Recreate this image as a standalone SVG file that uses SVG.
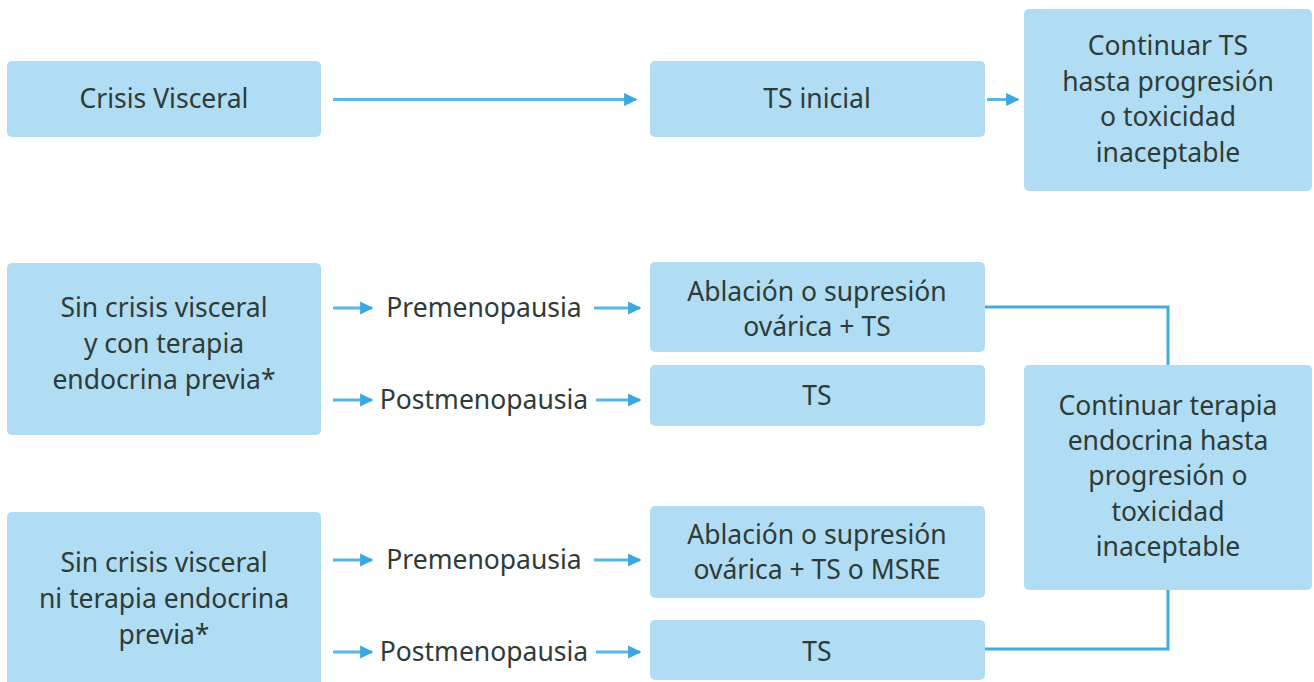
<svg xmlns="http://www.w3.org/2000/svg" width="1314" height="682" viewBox="0 0 1314 682">
<style>
.box{fill:#b0ddf3}
text{font-family:"Noto Sans",sans-serif;font-size:26.5px;fill:#2e3b36;text-anchor:middle}
.c{fill:none;stroke:#42aae0;stroke-width:3}
</style>
<defs>
<marker id="ah" viewBox="0 0 10 10" refX="9" refY="5" markerWidth="4.4" markerHeight="4.6" orient="auto" markerUnits="strokeWidth">
<path d="M0,0 L10,5 L0,10 z" fill="#3aa8e0"/>
</marker>
</defs>
<g id="n1"><rect class="box" x="7" y="61" width="314" height="76" rx="5"/><text x="164" y="108">Crisis Visceral</text></g>
<g id="n2"><rect class="box" x="650" y="61" width="335" height="76" rx="5"/><text x="817" y="108">TS inicial</text></g>
<g id="n3"><rect class="box" x="1024" y="9" width="288" height="182" rx="5"/>
<text x="1168" y="55">Continuar TS</text><text x="1168" y="91">hasta progresión</text><text x="1168" y="126">o toxicidad</text><text x="1168" y="162">inaceptable</text></g>
<g id="n4"><rect class="box" x="7" y="263" width="314" height="172" rx="5"/>
<text x="164" y="317">Sin crisis visceral</text><text x="164" y="353">y con terapia</text><text x="164" y="389">endocrina previa*</text></g>
<g id="n5"><rect class="box" x="650" y="262" width="335" height="90" rx="5"/>
<text x="817" y="301">Ablación o supresión</text><text x="817" y="336">ovárica + TS</text></g>
<g id="n6"><rect class="box" x="650" y="365" width="335" height="61" rx="5"/><text x="817" y="405">TS</text></g>
<g id="n7"><rect class="box" x="1024" y="365" width="288" height="225" rx="5"/>
<text x="1168" y="415">Continuar terapia</text><text x="1168" y="450">endocrina hasta</text><text x="1168" y="485">progresión o</text><text x="1168" y="521">toxicidad</text><text x="1168" y="556">inaceptable</text></g>
<g id="n8"><rect class="box" x="7" y="512" width="314" height="176" rx="5"/>
<text x="164" y="572">Sin crisis visceral</text><text x="164" y="608">ni terapia endocrina</text><text x="164" y="644">previa*</text></g>
<g id="n9"><rect class="box" x="650" y="506" width="335" height="92" rx="5"/>
<text x="817" y="544">Ablación o supresión</text><text x="817" y="579">ovárica + TS o MSRE</text></g>
<g id="n10"><rect class="box" x="650" y="620" width="335" height="60" rx="5"/><text x="817" y="661">TS</text></g>
<g id="l1"><text x="484" y="317">Premenopausia</text></g>
<g id="l2"><text x="484" y="409">Postmenopausia</text></g>
<g id="l3"><text x="484" y="569">Premenopausia</text></g>
<g id="l4"><text x="484" y="661">Postmenopausia</text></g>
<g id="connectors" stroke="#5ab6e5" stroke-width="3" fill="none">
<path d="M333,99.5 H636" marker-end="url(#ah)"/>
<path d="M987,99.5 H1018" marker-end="url(#ah)"/>
<path d="M333,308 H372" marker-end="url(#ah)"/>
<path d="M594,308 H640" marker-end="url(#ah)"/>
<path d="M333,400 H372" marker-end="url(#ah)"/>
<path d="M596,400 H640" marker-end="url(#ah)"/>
<path d="M333,560 H372" marker-end="url(#ah)"/>
<path d="M594,560 H640" marker-end="url(#ah)"/>
<path d="M333,652 H372" marker-end="url(#ah)"/>
<path d="M596,652 H640" marker-end="url(#ah)"/>
<path class="c" d="M985,307 H1168 V365"/>
<path class="c" d="M985,649 H1168 V590"/>
</g>
</svg>
